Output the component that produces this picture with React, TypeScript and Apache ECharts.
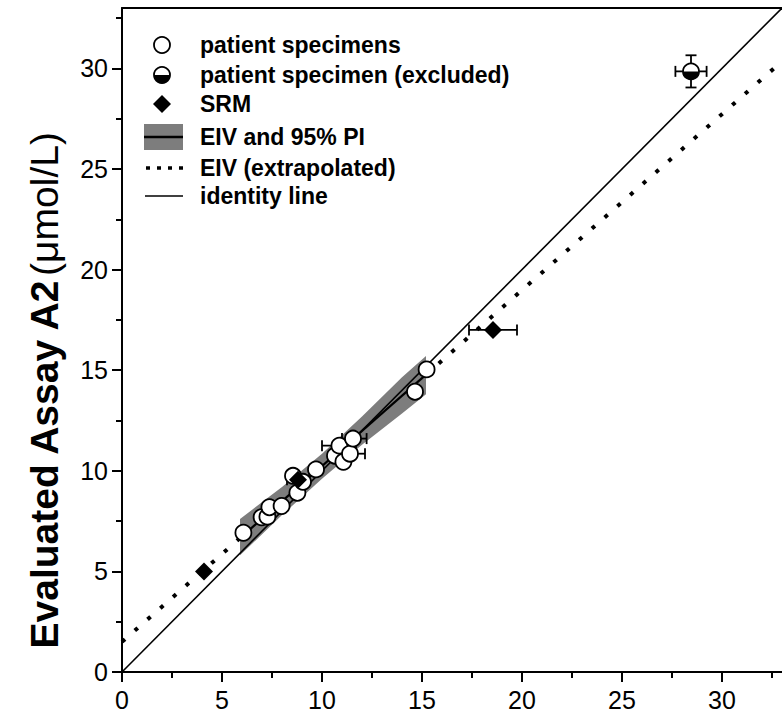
import React, { useEffect, useRef } from "react";
import * as echarts from "echarts";

// ---- data ----
const patientX = [6.07, 6.98, 7.27, 7.37, 7.98, 8.77, 8.55, 9.05, 9.7, 10.65, 10.87, 11.07, 11.4, 11.55, 14.65, 15.23];
const patientY = [6.92, 7.69, 7.72, 8.19, 8.25, 8.91, 9.75, 9.45, 10.07, 10.75, 11.25, 10.45, 10.85, 11.6, 13.93, 15.04];

const srmX = [4.1, 8.8, 18.55];
const srmY = [5.0, 9.55, 17.0];
const srmXErr = [0, 0.55, 1.2];

const excludedX = [28.45];
const excludedY = [29.85];
const excludedXErr = [0.78];
const excludedYErr = [0.8];

// x error bars seen in the specimen cluster
const clusterErrY = [11.25, 11.6, 10.85];
const clusterErrXLo = [10.0, 11.0, 10.7];
const clusterErrXHi = [11.7, 12.23, 12.15];

// EIV fit and 95% PI band
const bandX = [5.9, 8.0, 10.0, 12.0, 14.0, 15.2];
const bandLower = [5.8, 7.8, 9.6, 11.3, 12.85, 13.8];
const bandUpper = [7.6, 9.2, 10.85, 12.7, 14.65, 15.7];
const eivX = [6.0, 15.2];
const eivY = [6.74, 14.78];
const extLowX = [0, 6.0];
const extLowY = [1.5, 6.74];
const extHighX = [15.2, 33];
const extHighY = [14.78, 30.35];
const identityX = [0, 33];
const identityY = [0, 33];

const axisMin = 0;
const axisMax = 33;
const majorTicks = [0, 5, 10, 15, 20, 25, 30];
const minorTicks = [2.5, 7.5, 12.5, 17.5, 22.5, 27.5, 32.5];

const legendLabels = [
  "patient specimens",
  "patient specimen (excluded)",
  "SRM",
  "EIV and 95% PI",
  "EIV (extrapolated)",
  "identity line",
];

const FONT = "'Liberation Sans', Arial, sans-serif";

function pairs(xs: number[], ys: number[]) {
  return xs.map((x, i) => [x, ys[i]]);
}

export default function App() {
  const ref = useRef<HTMLDivElement>(null);

  useEffect(() => {
    if (!ref.current) return;
    const chart = echarts.init(ref.current, null, { renderer: "svg" });

    const errRows: number[][] = [];
    srmX.forEach((x, i) => {
      if (srmXErr[i] > 0) errRows.push([x, srmY[i], x - srmXErr[i], x + srmXErr[i], srmY[i], srmY[i]]);
    });
    clusterErrY.forEach((y, i) => {
      errRows.push([(clusterErrXLo[i] + clusterErrXHi[i]) / 2, y, clusterErrXLo[i], clusterErrXHi[i], y, y]);
    });
    excludedX.forEach((x, i) => {
      errRows.push([
        x,
        excludedY[i],
        x - excludedXErr[i],
        x + excludedXErr[i],
        excludedY[i] - excludedYErr[i],
        excludedY[i] + excludedYErr[i],
      ]);
    });

    const axisCommon = {
      type: "value" as const,
      min: axisMin,
      max: axisMax,
      splitLine: { show: false },
    };

    const legendRowsY = [45, 75, 104, 137, 168, 196];
    const symX = 162;
    const textX = 200;

    const option: any = {
      animation: false,
      backgroundColor: "#fff",
      grid: { left: 122, top: 8, width: 660, height: 664, containLabel: false },
      xAxis: [
        {
          ...axisCommon,
          position: "bottom",
          axisLine: { show: true, onZero: false, lineStyle: { color: "#000", width: 2 } },
          axisTick: { show: true, customValues: majorTicks, length: 10, lineStyle: { color: "#000", width: 2 } },
          axisLabel: {
            show: true,
            customValues: majorTicks,
            fontSize: 25,
            fontFamily: FONT,
            color: "#000",
            margin: 15,
          },
        },
        {
          ...axisCommon,
          position: "bottom",
          axisLine: { show: false, onZero: false },
          axisTick: { show: true, customValues: minorTicks, length: 6, lineStyle: { color: "#000", width: 2 } },
          axisLabel: { show: false },
        },
        {
          ...axisCommon,
          position: "top",
          axisLine: { show: true, onZero: false, lineStyle: { color: "#000", width: 2 } },
          axisTick: { show: false },
          axisLabel: { show: false },
        },
      ],
      yAxis: [
        {
          ...axisCommon,
          position: "left",
          axisLine: { show: true, onZero: false, lineStyle: { color: "#000", width: 2 } },
          axisTick: { show: true, customValues: majorTicks, length: 10, lineStyle: { color: "#000", width: 2 } },
          axisLabel: {
            show: true,
            customValues: majorTicks,
            fontSize: 25,
            fontFamily: FONT,
            color: "#000",
            margin: 14,
          },
        },
        {
          ...axisCommon,
          position: "left",
          axisLine: { show: false, onZero: false },
          axisTick: { show: true, customValues: minorTicks, length: 6, lineStyle: { color: "#000", width: 2 } },
          axisLabel: { show: false },
        },
      ],
      series: [
        {
          name: "band",
          type: "custom",
          xAxisIndex: 0,
          yAxisIndex: 0,
          z: 1,
          data: bandX.map((x, i) => [x, bandLower[i], bandUpper[i]]),
          renderItem: (params: any, api: any) => {
            if (params.dataIndex !== 0) return null;
            const pts: number[][] = [];
            bandX.forEach((x, i) => pts.push(api.coord([x, bandUpper[i]])));
            for (let i = bandX.length - 1; i >= 0; i--) pts.push(api.coord([bandX[i], bandLower[i]]));
            return {
              type: "polygon",
              shape: { points: pts },
              style: { fill: "#7d7d7d", stroke: "none" },
            };
          },
        },
        {
          name: "identity line",
          type: "line",
          z: 2,
          data: pairs(identityX, identityY),
          symbol: "none",
          lineStyle: { color: "#000", width: 1.6 },
        },
        {
          name: "EIV extrapolated low",
          type: "line",
          z: 2,
          data: pairs(extLowX, extLowY),
          symbol: "none",
          lineStyle: { color: "#000", width: 4, type: [4, 13] },
        },
        {
          name: "EIV extrapolated high",
          type: "line",
          z: 2,
          data: pairs(extHighX, extHighY),
          symbol: "none",
          lineStyle: { color: "#000", width: 4, type: [4, 13] },
        },
        {
          name: "EIV",
          type: "line",
          z: 3,
          data: pairs(eivX, eivY),
          symbol: "none",
          lineStyle: { color: "#000", width: 2.2 },
        },
        {
          name: "error bars",
          type: "custom",
          z: 4,
          data: errRows,
          renderItem: (params: any, api: any) => {
            const x = api.value(0), y = api.value(1);
            const xlo = api.value(2), xhi = api.value(3);
            const ylo = api.value(4), yhi = api.value(5);
            const children: any[] = [];
            const st = { stroke: "#000", lineWidth: 1.8 };
            const cap = 5.5;
            if (xhi > xlo) {
              const a = api.coord([xlo, y]);
              const b = api.coord([xhi, y]);
              children.push({ type: "line", shape: { x1: a[0], y1: a[1], x2: b[0], y2: b[1] }, style: st });
              children.push({ type: "line", shape: { x1: a[0], y1: a[1] - cap, x2: a[0], y2: a[1] + cap }, style: st });
              children.push({ type: "line", shape: { x1: b[0], y1: b[1] - cap, x2: b[0], y2: b[1] + cap }, style: st });
            }
            if (yhi > ylo) {
              const a = api.coord([x, ylo]);
              const b = api.coord([x, yhi]);
              children.push({ type: "line", shape: { x1: a[0], y1: a[1], x2: b[0], y2: b[1] }, style: st });
              children.push({ type: "line", shape: { x1: a[0] - cap, y1: a[1], x2: a[0] + cap, y2: a[1] }, style: st });
              children.push({ type: "line", shape: { x1: b[0] - cap, y1: b[1], x2: b[0] + cap, y2: b[1] }, style: st });
            }
            return { type: "group", children };
          },
        },
        {
          name: "patient specimens",
          type: "scatter",
          z: 5,
          data: pairs(patientX, patientY),
          symbol: "circle",
          symbolSize: 16,
          itemStyle: { color: "#fff", borderColor: "#000", borderWidth: 1.8, opacity: 1 },
        },
        {
          name: "SRM",
          type: "scatter",
          z: 6,
          data: pairs(srmX, srmY),
          symbol: "diamond",
          symbolSize: 18,
          itemStyle: { color: "#000", opacity: 1 },
        },
        {
          name: "patient specimen (excluded)",
          type: "custom",
          z: 6,
          data: pairs(excludedX, excludedY),
          renderItem: (params: any, api: any) => {
            const c = api.coord([api.value(0), api.value(1)]);
            const r = 8;
            return {
              type: "group",
              children: [
                { type: "circle", shape: { cx: c[0], cy: c[1], r }, style: { fill: "#fff", stroke: "#000", lineWidth: 1.8 } },
                {
                  type: "sector",
                  shape: { cx: c[0], cy: c[1], r0: 0, r, startAngle: 0, endAngle: Math.PI, clockwise: true },
                  style: { fill: "#000" },
                },
              ],
            };
          },
        },
      ],
      graphic: [
        // y-axis title
        {
          type: "text",
          x: 44,
          y: 391,
          rotation: Math.PI / 2,
          style: {
            text: "{b|Evaluated Assay A2} {n|(μmol/L)}",
            align: "center",
            verticalAlign: "middle",
            fill: "#000",
            rich: {
              b: { fontSize: 39, fontWeight: "bold", fontFamily: FONT, fill: "#000" },
              n: { fontSize: 39, fontWeight: "normal", fontFamily: FONT, fill: "#000" },
            },
          },
        },
        // legend symbols
        {
          type: "circle",
          shape: { cx: symX, cy: legendRowsY[0], r: 8 },
          style: { fill: "#fff", stroke: "#000", lineWidth: 1.8 },
        },
        {
          type: "circle",
          shape: { cx: symX, cy: legendRowsY[1], r: 8 },
          style: { fill: "#fff", stroke: "#000", lineWidth: 1.8 },
        },
        {
          type: "sector",
          shape: { cx: symX, cy: legendRowsY[1], r0: 0, r: 8, startAngle: 0, endAngle: Math.PI, clockwise: true },
          style: { fill: "#000" },
        },
        {
          type: "polygon",
          shape: {
            points: [
              [symX, legendRowsY[2] - 9],
              [symX + 9, legendRowsY[2]],
              [symX, legendRowsY[2] + 9],
              [symX - 9, legendRowsY[2]],
            ],
          },
          style: { fill: "#000" },
        },
        {
          type: "rect",
          shape: { x: 144, y: legendRowsY[3] - 13, width: 39, height: 26 },
          style: { fill: "#7d7d7d" },
        },
        {
          type: "line",
          shape: { x1: 144, y1: legendRowsY[3], x2: 183, y2: legendRowsY[3] },
          style: { stroke: "#000", lineWidth: 2.5 },
        },
        {
          type: "line",
          shape: { x1: 146, y1: legendRowsY[4], x2: 183, y2: legendRowsY[4] },
          style: { stroke: "#000", lineWidth: 3.5, lineDash: [4, 7] },
        },
        {
          type: "line",
          shape: { x1: 145, y1: legendRowsY[5], x2: 183, y2: legendRowsY[5] },
          style: { stroke: "#000", lineWidth: 1.6 },
        },
        // legend labels
        ...legendLabels.map((label, i) => ({
          type: "text",
          x: textX,
          y: legendRowsY[i],
          style: {
            text: label,
            fontSize: 23,
            fontWeight: "bold",
            fontFamily: FONT,
            fill: "#000",
            align: "left",
            verticalAlign: "middle",
          },
        })),
      ],
    };

    chart.setOption(option);
    return () => chart.dispose();
  }, []);

  return (
    <div
      ref={ref}
      style={{ position: "absolute", left: 0, top: 0, width: 782, height: 714, background: "#fff" }}
    />
  );
}
